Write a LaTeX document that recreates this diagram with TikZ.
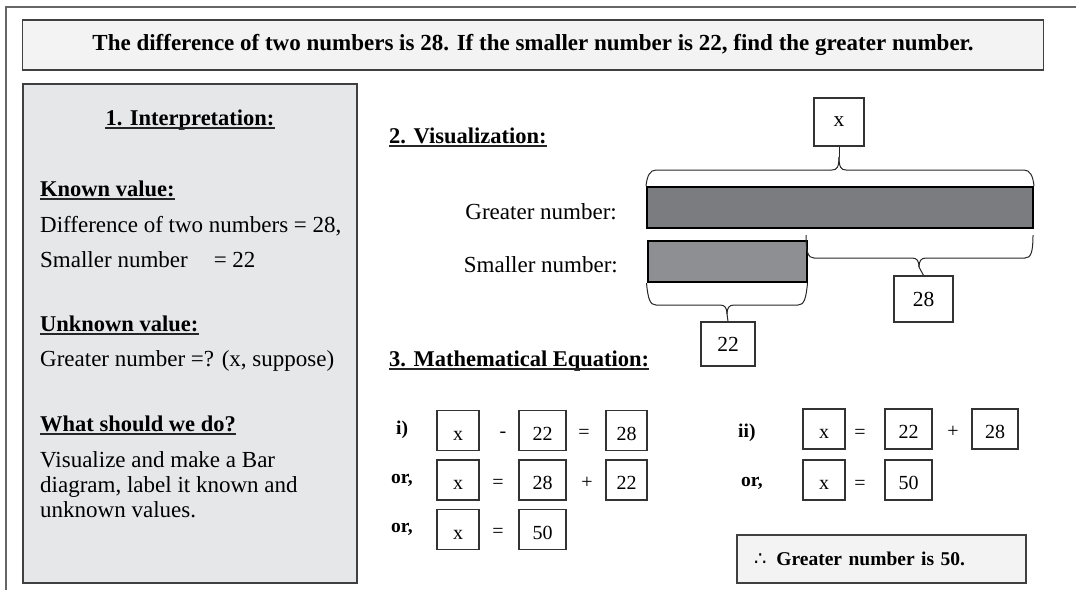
\documentclass[tikz,border=0pt]{standalone}
\usepackage{fontspec}
\setmainfont{Liberation Serif}
\newfontfamily\symfont{DejaVu Sans}
\usepackage{tikz}
\usetikzlibrary{positioning,calc}

\definecolor{panelgray}{HTML}{E6E7E9}
\definecolor{titlegray}{HTML}{F3F3F3}
\definecolor{bigbar}{HTML}{7B7C80}
\definecolor{smallbar}{HTML}{8E8F93}

\begin{document}
\begin{tikzpicture}[
    x=1pt, y=-1pt,
    panel/.style={draw=black!75, line width=1.5pt},
    txt/.style={font=\fontsize{23}{26}\selectfont, inner sep=0pt, anchor=base west},
    hd/.style={txt, font=\fontsize{22.5}{26}\selectfont\bfseries},
    uline/.style={line width=1.6pt, black!85},
    numbox/.style={draw=black!80, line width=1.3pt, minimum width=42pt, minimum height=40pt, inner sep=0pt, font=\fontsize{20}{24}\selectfont},
    eqbox/.style={numbox, text height=19pt, text depth=0pt},
    vbox/.style={numbox, font=\fontsize{21.5}{24}\selectfont},
    op/.style={inner sep=0pt, anchor=base, font=\fontsize{20}{24}\selectfont},
    eqlbl/.style={inner sep=0pt, anchor=base west, font=\fontsize{19.5}{22}\selectfont\bfseries},
    bar/.style={draw=black, line width=2pt, inner sep=0pt, minimum height=41pt},
    brc/.style={line width=1pt, black!85}
]
\useasboundingbox (0,0) rectangle (1076,590);
\draw[black!60, line width=1.5pt] (6,590) -- (6,7) -- (1076,7);

% problem statement
\node[panel, fill=titlegray, minimum width=1021pt, minimum height=50pt] (title) at (533,45)
    {\fontsize{23}{26}\selectfont\bfseries The difference of two numbers is 28. If the smaller number is 22, find the greater number.};

% 1. interpretation
\node[panel, fill=panelgray, minimum width=334pt, minimum height=499pt] (interp) at (190,333.5) {};
\node[hd, anchor=base] (h1) at (190,125) {1. Interpretation:};
\node[hd] (known) at (40,196) {Known value:};
\node[txt] (k1) at (40,232) {Difference of two numbers = 28,};
\node[txt] (k2) at (40,267) {Smaller number\hspace{26pt}= 22};
\node[hd] (unknown) at (40,331) {Unknown value:};
\node[txt] (u1) at (40,366) {Greater number =? (x, suppose)};
\node[hd] (todo) at (40,431) {What should we do?};
\node[txt] (t1) at (40,467) {Visualize and make a Bar};
\node[txt] (t2) at (40,492) {diagram, label it known and};
\node[txt] (t3) at (40,517) {unknown values.};

% 2. visualization
\node[hd] (h2) at (389,143) {2. Visualization:};
\node[txt, anchor=base east] (glbl) at (617,219) {Greater number:};
\node[txt, anchor=base east] (slbl) at (618,272) {Smaller number:};
\node[bar, fill=bigbar, minimum width=386pt] (gbar) at (840,207.5) {};
\node[bar, fill=smallbar, minimum width=159pt] (sbar) at (727,261.5) {};
\node[vbox, minimum width=50pt, minimum height=48pt] (xbox) at (839,122) {x};
\node[vbox, minimum width=59pt, minimum height=46pt] (b28) at (923.5,299) {28};
\node[vbox, minimum width=54pt, minimum height=44pt] (b22) at (728,344) {22};

\coordinate (xtip) at (839,157);
\coordinate (t28) at (919,267);
\coordinate (t22) at (727,314);
\coordinate (l28) at (806,235);
\coordinate (r28) at (1033,235);

\draw[brc] (gbar.north west) .. controls (647,176) and (650,170) .. (656,170) -- (832,170)
    .. controls (837,170) and (839,167) .. (xtip);
\draw[brc] (xtip) .. controls (839,167) and (841,170) .. (846,170) -- (1024,170)
    .. controls (1030,170) and (1033,176) .. (gbar.north east);
\draw[brc] (xtip) -- (xbox.south);

\draw[brc] (l28) .. controls (806,252) and (808,258) .. (814,258) -- (912,258)
    .. controls (917,258) and (919,261) .. (t28);
\draw[brc] (t28) .. controls (919,261) and (921,258) .. (926,258) -- (1025,258)
    .. controls (1031,258) and (1033,252) .. (r28);
\draw[brc] (t28) -- (b28.north);

\draw[brc] (sbar.south west) .. controls (648,299) and (650,305) .. (656,305) -- (720,305)
    .. controls (725,305) and (727,308) .. (t22);
\draw[brc] (t22) .. controls (727,308) and (729,305) .. (734,305) -- (798,305)
    .. controls (804,305) and (806,299) .. (sbar.south east);
\draw[brc] (t22) -- (b22.north);

% 3. equations
\node[hd] (h3) at (389,366) {3. Mathematical Equation:};

% headings underlined
\foreach \h in {h1,known,unknown,todo,h2,h3}
    \draw[uline] ($(\h.base west)+(0,3)$) -- ($(\h.base east)+(0,3)$);

\node[eqlbl] (li) at (396,434) {i)};
\node[eqbox] (ea1) at (458,430.5) {x};
\node[op] (oa1) at (503,437) {-};
\node[eqbox, minimum width=47pt] (ea2) at (542.5,430.5) {22};
\node[op] (oa2) at (584,438.5) {=};
\node[eqbox, minimum width=41pt] (ea3) at (626.5,430.5) {28};

\node[eqlbl] (lb) at (391,483) {or,};
\node[eqbox] (eb1) at (458,480) {x};
\node[op] (ob1) at (498,488) {=};
\node[eqbox, minimum width=47pt] (eb2) at (542.5,480) {28};
\node[op] (ob2) at (587,488.5) {+};
\node[eqbox, minimum width=41pt] (eb3) at (626.5,480) {22};

\node[eqlbl] (lc) at (391,532) {or,};
\node[eqbox] (ec1) at (458,529.5) {x};
\node[op] (oc1) at (498,537.5) {=};
\node[eqbox, minimum width=47pt] (ec2) at (542.5,529.5) {50};

\node[eqlbl] (lii) at (738,437) {ii)};
\node[eqbox] (fa1) at (824,429) {x};
\node[op] (pa1) at (860,438) {=};
\node[eqbox, minimum width=47pt] (fa2) at (908.5,429) {22};
\node[op] (pa2) at (953,437.5) {+};
\node[eqbox, minimum width=46pt] (fa3) at (995,429) {28};

\node[eqlbl] (liib) at (741,486) {or,};
\node[eqbox] (fb1) at (824,480) {x};
\node[op] (pb1) at (860,489) {=};
\node[eqbox, minimum width=47pt] (fb2) at (908.5,480) {50};

% answer
\node[panel, fill=titlegray, minimum width=289pt, minimum height=48pt, text width=255pt, align=left,
      font=\fontsize{19.5}{22}\selectfont] (ans) at (881.5,559)
    {{\symfont ∴}\hspace{10pt}\textbf{Greater number is 50.}};
\end{tikzpicture}
\end{document}
